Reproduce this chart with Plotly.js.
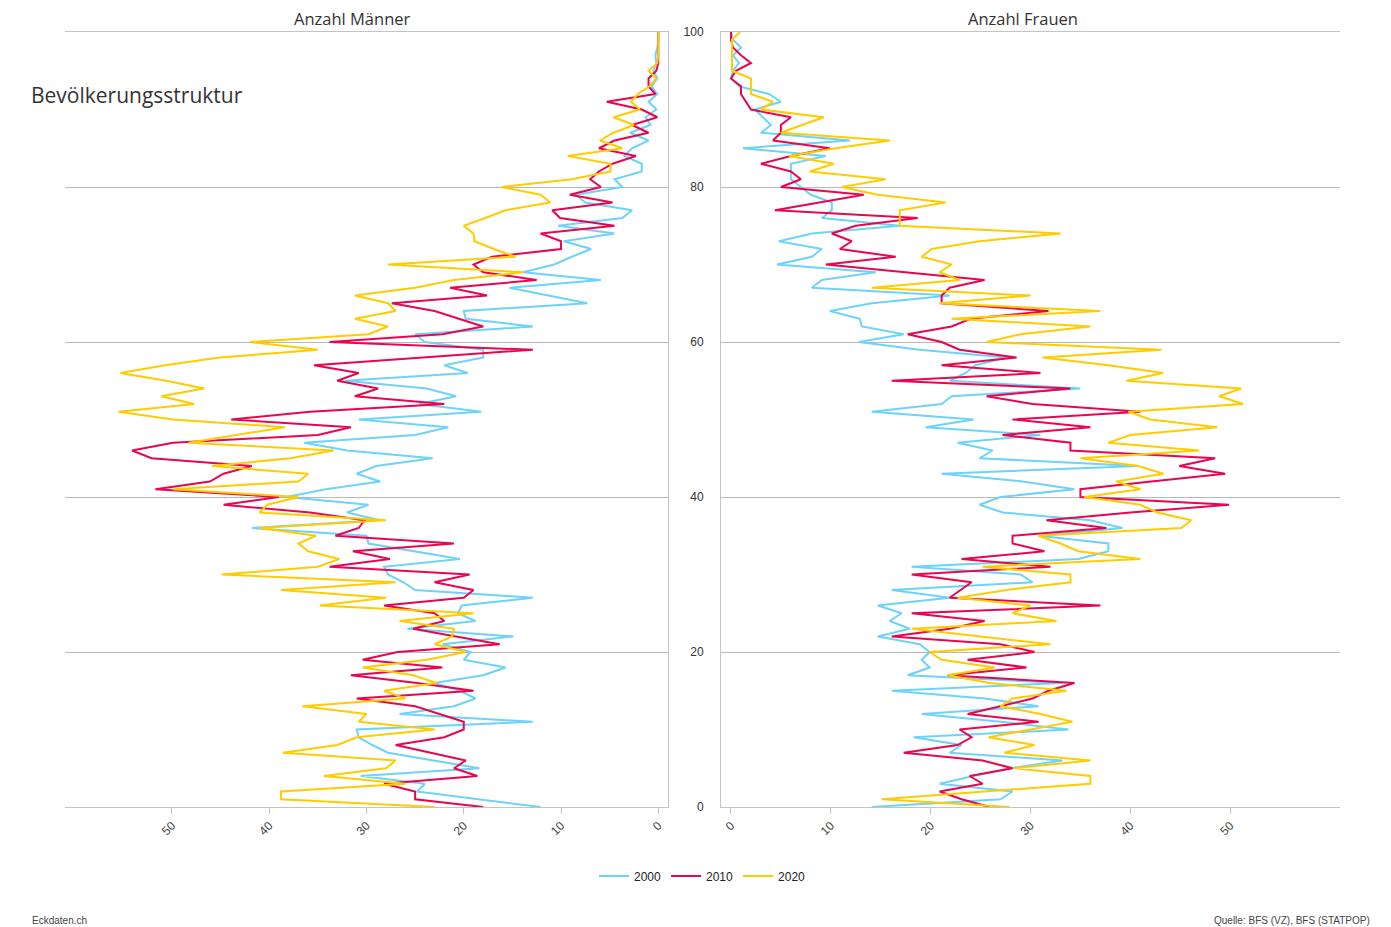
<!DOCTYPE html>
<html>
<head>
<meta charset="utf-8">
<script src="https://cdn.plot.ly/plotly-3.0.1.min.js"></script>
<style>
html,body{margin:0;padding:0;background:#fff;}
#chart{width:1391px;height:927px;}
</style>
</head>
<body>
<div id="chart"></div>
<script>
// Ages 0..100
const ages = Array.from({length: 101}, (_, i) => i);

const seriesNames = ["2000", "2010", "2020"];
const seriesColors = ["#6dd3f8", "#e8064f", "#ffcc00"];

// Anzahl Männer (index = age 0..100)
const maenner2000 = [12.1,18.6,24.8,24.0,30.6,18.4,23.0,27.8,29.4,30.8,31.0,12.9,26.6,21.0,18.8,20.4,23.0,18.0,15.7,20.0,
  19.3,22.2,14.9,25.8,18.8,20.6,20.2,12.9,25.0,26.2,27.8,28.2,20.4,25.0,29.8,30.0,41.8,28.6,32.0,29.8,
  38.2,34.2,28.6,31.0,29.0,23.2,32.0,36.4,25.0,21.6,30.8,18.2,24.6,20.8,23.8,32.2,19.6,22.0,18.0,18.0,
  24.0,25.0,12.9,19.8,20.0,7.3,11.3,15.3,5.9,13.9,10.7,8.9,6.9,9.7,4.5,10.3,3.7,2.7,7.5,8.5,
  3.7,4.5,1.7,1.7,3.5,2.7,1.0,2.9,0.8,1.3,0.2,1.0,0.1,0.7,0.1,0.5,0.2,0.3,0.1,0,0];
const maenner2010 = [18.0,25.0,25.0,28.2,18.6,21.0,19.8,23.4,27.0,22.0,20.0,20.0,22.6,25.0,31.0,19.0,24.8,31.6,22.2,30.4,
  26.8,16.3,20.8,25.2,22.0,23.0,28.2,20.0,19.0,23.0,19.4,33.8,27.6,31.4,21.0,33.2,30.8,30.2,35.8,44.7,
  39.0,51.7,46.1,44.7,41.8,52.1,54.1,49.9,35.0,31.6,43.9,35.8,22.0,31.2,28.8,33.0,30.8,35.4,24.2,12.9,
  33.8,22.2,18.0,20.6,23.0,27.4,17.6,21.4,12.5,18.0,19.0,17.1,10.0,10.0,12.1,4.5,10.1,10.9,4.7,9.1,
  5.9,7.0,6.1,4.7,2.3,6.1,4.5,1.0,2.7,0.1,1.7,5.3,0.3,1.0,1.0,0.2,0,0,0,0,0];
const maenner2020 = [23.0,38.8,38.8,26.0,34.4,28.0,27.0,38.6,33.0,31.0,23.0,30.8,30.0,36.6,26.0,28.2,22.8,25.2,30.4,23.8,
  19.8,23.0,21.2,21.0,26.6,19.0,34.8,28.0,38.8,27.0,44.9,35.0,32.8,36.0,37.0,35.2,41.0,28.0,41.0,40.2,
  37.0,49.9,37.0,36.0,45.9,37.8,33.4,48.3,43.4,38.4,49.9,55.5,47.7,51.1,46.7,50.6,55.3,50.7,45.1,35.0,
  42.0,29.8,27.8,31.2,27.0,27.8,31.2,25.0,21.0,13.9,27.8,14.7,16.9,18.9,19.0,20.0,17.8,15.7,11.1,12.1,
  16.1,8.9,4.9,4.9,9.3,3.7,6.0,4.6,2.5,4.6,1.9,2.8,2.1,0.9,0.2,1.0,0.1,0,0,0,0];

// Anzahl Frauen (index = age 0..100)
const frauen2000 = [14.1,27.0,28.2,20.9,24.3,28.0,33.2,21.9,23.1,18.3,33.8,27.0,19.1,30.8,25.4,16.1,33.2,17.7,19.9,19.1,
  19.9,18.9,14.7,17.9,15.9,17.1,14.7,21.9,16.1,30.2,29.0,18.1,34.8,37.8,37.8,30.8,39.2,36.0,27.2,24.9,
  27.0,34.4,29.2,21.1,40.8,24.9,26.2,22.7,31.0,19.5,24.3,14.1,21.1,22.1,35.0,21.9,23.5,24.5,27.6,18.9,
  12.8,17.3,13.1,12.9,9.9,14.1,21.9,8.1,9.1,14.5,4.6,8.1,9.1,4.8,8.1,16.9,9.1,10.1,10.1,8.0,
  7.0,6.0,6.0,6.0,9.5,1.2,11.9,3.0,4.0,3.2,2.4,5.0,3.8,0.8,0.0,0.2,0.8,0.2,1.0,0.2,0];
const frauen2010 = [25.9,23.1,20.9,25.2,23.9,28.2,25.2,17.3,22.7,24.1,22.9,30.8,23.7,27.0,30.2,31.8,34.4,21.7,29.6,23.7,
  30.4,27.0,16.1,21.9,25.4,18.1,37.0,21.9,23.0,24.1,18.1,32.0,23.1,31.4,28.2,28.2,37.6,31.6,40.0,49.9,
  35.0,35.0,42.1,49.5,44.9,48.5,34.0,34.0,27.2,36.0,28.2,41.0,30.2,25.6,34.0,16.1,31.0,21.1,28.6,22.9,
  21.1,17.7,22.1,24.0,31.8,21.1,21.1,21.9,25.4,17.5,9.5,16.5,10.9,12.1,10.1,12.5,18.7,4.4,8.9,13.3,
  5.0,7.0,6.0,3.0,6.0,9.9,4.2,5.0,5.0,6.0,2.0,1.5,1.0,1.0,0.0,0.5,2.0,1.0,0.2,0,0];
const frauen2020 = [27.9,15.1,25.4,36.0,36.0,28.4,36.0,27.4,30.4,25.8,30.0,34.2,31.0,27.0,28.2,33.6,25.9,21.7,26.4,21.1,
  19.9,32.0,25.0,18.1,32.6,28.2,30.0,22.7,27.6,34.0,34.0,25.2,41.0,34.8,33.0,30.8,45.1,46.1,42.7,41.0,
  35.4,41.0,38.6,43.3,40.8,35.0,46.9,37.8,40.0,48.7,42.0,39.8,51.3,48.9,51.1,39.6,43.3,37.8,31.2,43.1,
  25.6,29.0,36.0,22.1,37.0,20.9,30.0,14.1,22.9,20.9,22.1,19.1,20.1,24.9,33.0,16.9,16.9,16.9,21.5,14.7,
  11.1,15.5,7.9,10.3,5.8,10.5,15.9,5.0,7.1,9.3,3.0,4.2,2.0,2.0,2.0,0.1,0.1,0.1,0.1,0.1,0.9];

const xTickVals = [0, 10, 20, 30, 40, 50];
const xTickText = ["0", "10", "20", "30", "40", "50"];
const yTickVals = [0, 20, 40, 60, 80, 100];
const yTickText = ["0", "20", "40", "60", "80", "100"];

const panelTitles = ["Anzahl Männer", "Anzahl Frauen"];
const chartTitle = "Bevölkerungsstruktur";
const footerLeft = "Eckdaten.ch";
const footerRight = "Quelle: BFS (VZ), BFS (STATPOP)";

const men = [maenner2000, maenner2010, maenner2020];
const women = [frauen2000, frauen2010, frauen2020];

const traces = [];
men.forEach((vals, i) => {
  traces.push({
    type: "scatter", mode: "lines", name: seriesNames[i],
    x: vals, y: ages, xaxis: "x", yaxis: "y",
    line: {color: seriesColors[i], width: 2},
    hoverinfo: "skip", showlegend: true, legendgroup: seriesNames[i]
  });
});
women.forEach((vals, i) => {
  traces.push({
    type: "scatter", mode: "lines", name: seriesNames[i],
    x: vals, y: ages, xaxis: "x2", yaxis: "y2",
    line: {color: seriesColors[i], width: 2},
    hoverinfo: "skip", showlegend: false, legendgroup: seriesNames[i]
  });
});

const W = 1391, H = 927;
const mL = 65, mR = 51, mT = 32, mB = 120;
const pw = W - mL - mR, ph = H - mT - mB;
const px = v => (v - mL) / pw;
const py = v => (H - mB - v) / ph;

const gridCol = "#b8b8b8";
const lineCol = "#c4c4c4";
const tickFont = {family: "Liberation Sans, Arial, sans-serif", size: 12, color: "#444"};

const xCommon = {
  tickvals: xTickVals, ticktext: xTickText, tickangle: -45,
  ticks: "outside", ticklen: 6, tickcolor: lineCol, tickwidth: 1,
  showline: true, mirror: true, linecolor: lineCol, linewidth: 1,
  showgrid: false, zeroline: false, tickfont: tickFont, fixedrange: true
};

const layout = {
  width: W, height: H,
  margin: {l: mL, r: mR, t: mT, b: mB, pad: 0},
  paper_bgcolor: "#fff", plot_bgcolor: "#fff",
  font: {family: "Liberation Sans, Arial, sans-serif", color: "#333"},
  showlegend: true,
  legend: {
    orientation: "h", x: 0.5, xanchor: "center", y: py(876), yanchor: "middle",
    font: {family: "Liberation Sans, Arial, sans-serif", size: 12, color: "#222"},
    traceorder: "normal", itemwidth: 30
  },
  xaxis: Object.assign({}, xCommon, {domain: [0, px(668)], range: [61, -1], anchor: "y"}),
  xaxis2: Object.assign({}, xCommon, {domain: [px(721), 1], range: [-1, 61], anchor: "y2"}),
  yaxis: {
    domain: [0, 1], range: [0, 100], anchor: "x", side: "right",
    tickvals: yTickVals, showticklabels: false, ticks: "",
    showgrid: true, gridcolor: gridCol, gridwidth: 1,
    showline: true, linecolor: lineCol, zeroline: false, fixedrange: true
  },
  yaxis2: {
    domain: [0, 1], range: [0, 100], anchor: "x2", side: "left",
    tickvals: yTickVals, ticktext: yTickText, ticks: "", ticklabelstandoff: 14,
    tickfont: {family: "Liberation Sans, Arial, sans-serif", size: 12, color: "#333"},
    showgrid: true, gridcolor: gridCol, gridwidth: 1,
    showline: true, linecolor: lineCol, zeroline: false, fixedrange: true
  },
  annotations: [
    {xref: "paper", yref: "paper", x: px(352), y: 1, yanchor: "bottom", yshift: 0,
     xanchor: "center", text: panelTitles[0], showarrow: false,
     font: {family: "Open Sans, Liberation Sans, sans-serif", size: 16.5, color: "#333"}},
    {xref: "paper", yref: "paper", x: px(1023), y: 1, yanchor: "bottom", yshift: 0,
     xanchor: "center", text: panelTitles[1], showarrow: false,
     font: {family: "Open Sans, Liberation Sans, sans-serif", size: 16.5, color: "#333"}},
    {xref: "paper", yref: "paper", x: px(29), y: py(95), xanchor: "left", yanchor: "middle",
     text: chartTitle, showarrow: false,
     font: {family: "Open Sans, Liberation Sans, sans-serif", size: 21, color: "#333"}},
    {xref: "paper", yref: "paper", x: px(30), y: py(920), xanchor: "left", yanchor: "middle",
     text: footerLeft, showarrow: false,
     font: {family: "Liberation Sans, Arial, sans-serif", size: 10, color: "#444"}},
    {xref: "paper", yref: "paper", x: px(1372), y: py(920), xanchor: "right", yanchor: "middle",
     text: footerRight, showarrow: false,
     font: {family: "Liberation Sans, Arial, sans-serif", size: 10, color: "#444"}}
  ]
};

Plotly.newPlot("chart", traces, layout, {displayModeBar: false, staticPlot: true});
</script>
</body>
</html>
